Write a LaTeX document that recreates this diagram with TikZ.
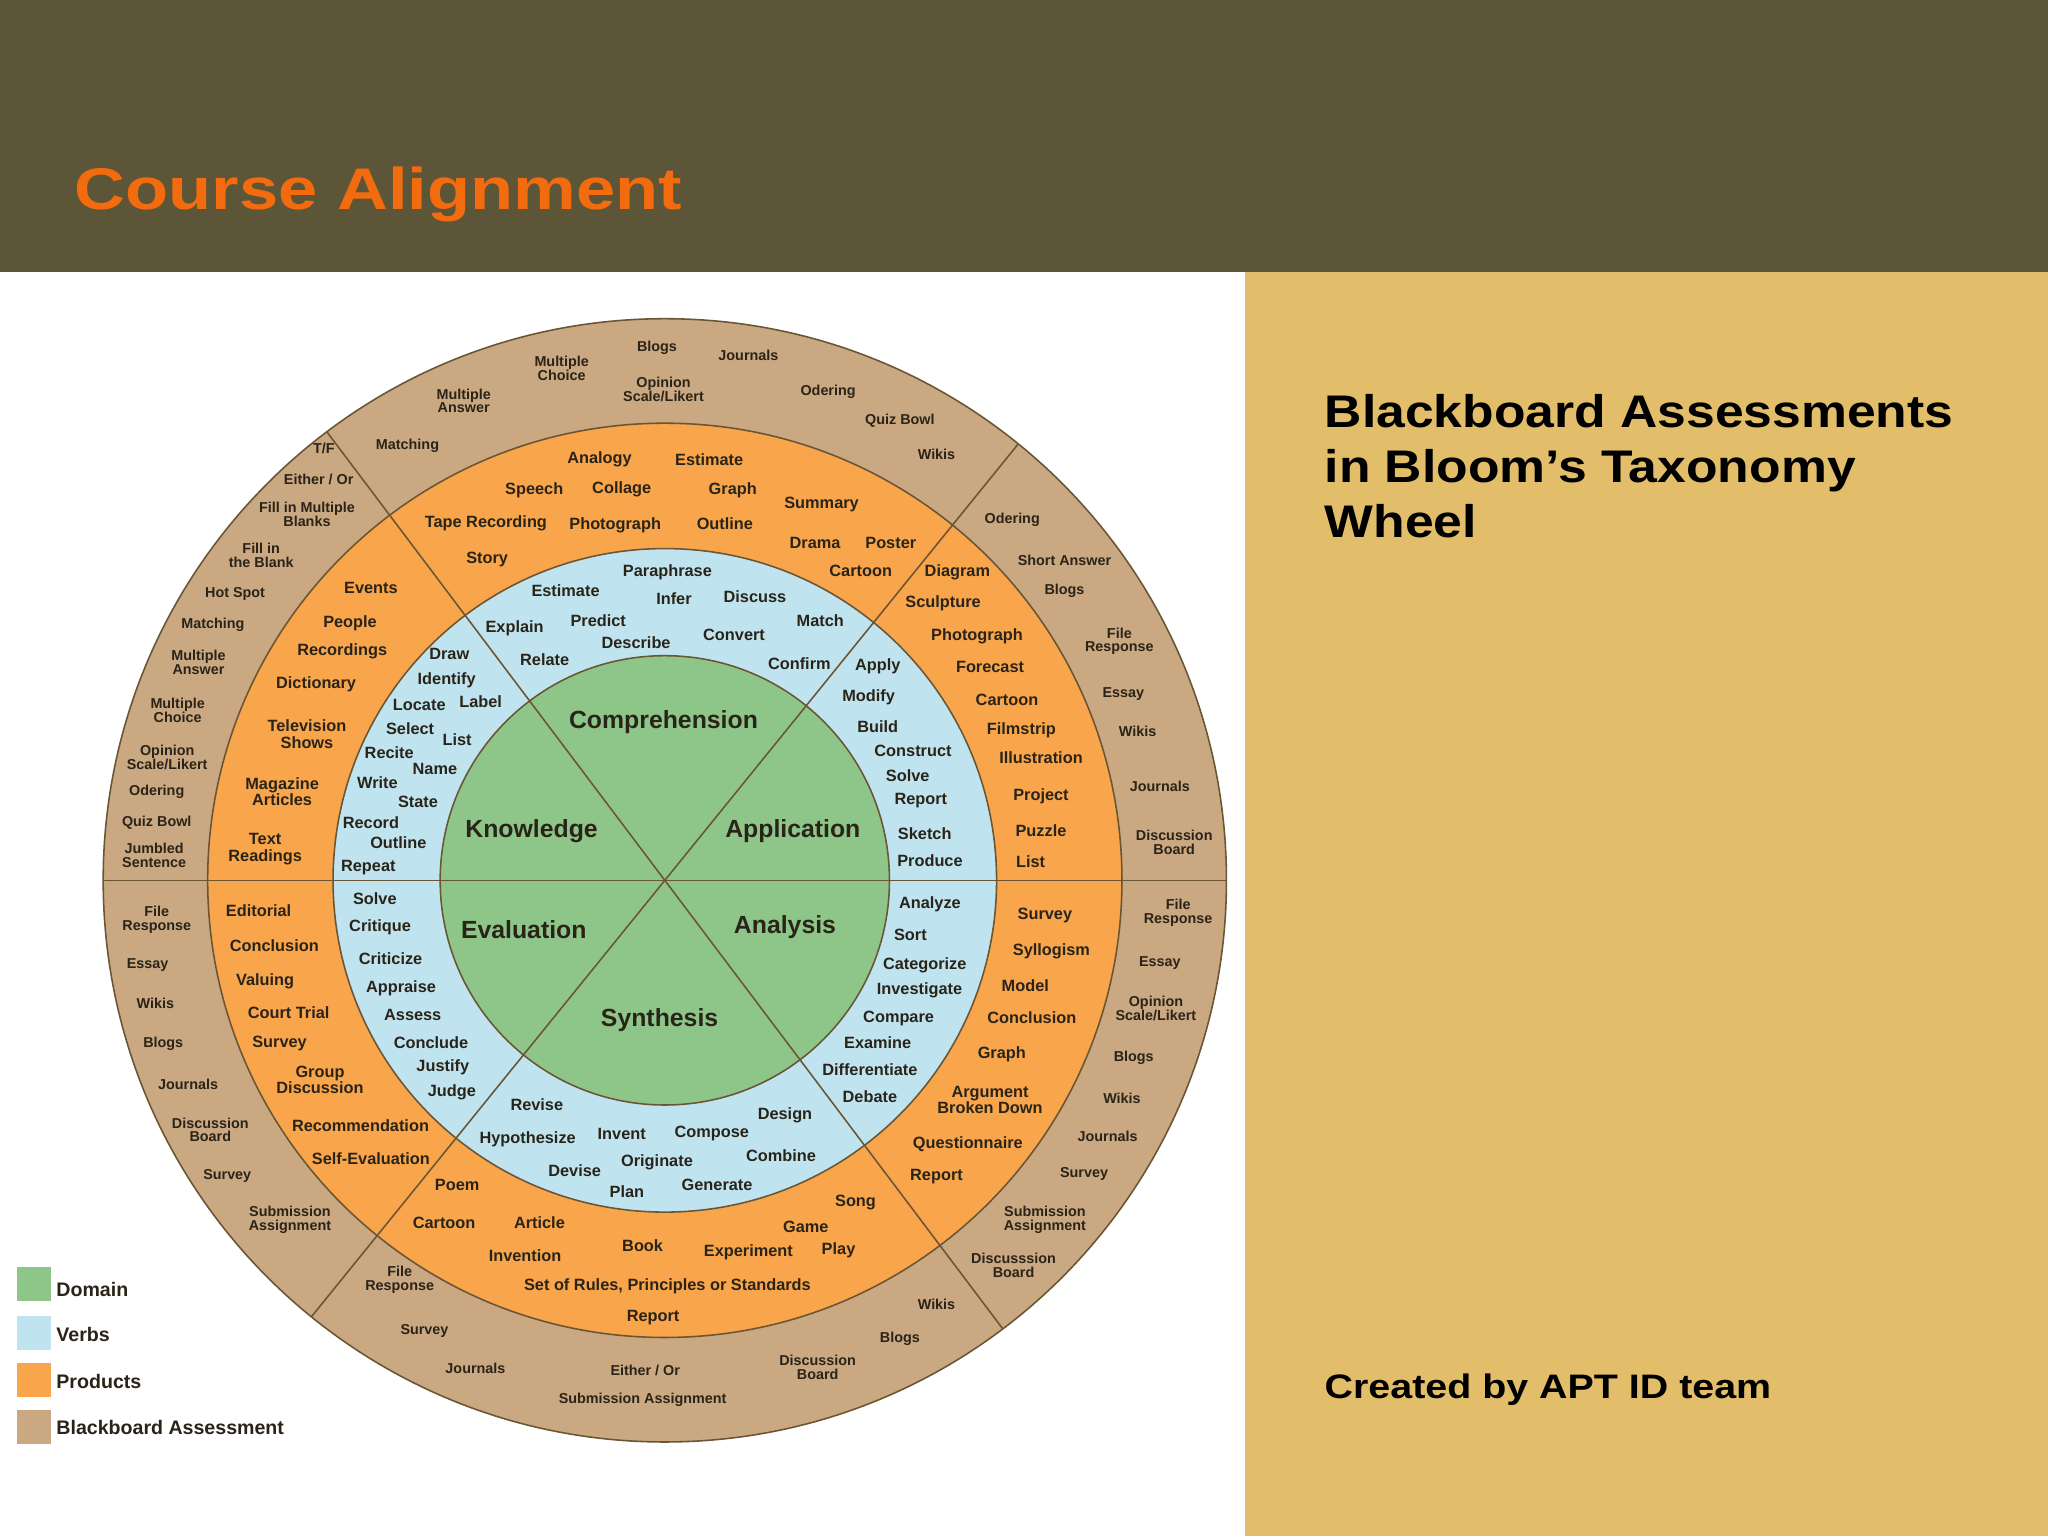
\documentclass[tikz,border=0pt]{standalone}
\usepackage{fontspec}
\setmainfont{Liberation Sans}
\definecolor{hdr}{HTML}{5C5538}
\definecolor{panel}{HTML}{E3BE6A}
\definecolor{ttl}{HTML}{F26B0F}
\definecolor{cBrown}{HTML}{C9A882}
\definecolor{cOrange}{HTML}{F8A54B}
\definecolor{cBlue}{HTML}{BFE4F0}
\definecolor{cGreen}{HTML}{8EC68A}
\definecolor{lineC}{HTML}{6A5535}
\definecolor{txt}{HTML}{2A2418}
\begin{document}
\begin{tikzpicture}[x=1pt,y=-1pt,
  sm/.style={font=\bfseries\fontsize{11}{10.5}\selectfont,align=center,inner sep=0,text=txt},
  md/.style={font=\bfseries\fontsize{12.5}{12.5}\selectfont,align=center,inner sep=0,text=txt},
  dom/.style={font=\bfseries\fontsize{19}{19}\selectfont,inner sep=0,text=txt},
  ring/.style={draw=lineC,line width=1.2pt},
  legbox/.style={minimum size=26pt,inner sep=0,anchor=north west},
  leglab/.style={font=\bfseries\fontsize{15}{15}\selectfont,anchor=west,inner sep=0,text=txt}]
\useasboundingbox (0,0) rectangle (1568,1176);
\fill[white] (0,0) rectangle (1568,1176);
\fill[hdr] (0,0) rectangle (1568,208);
\fill[panel] (953,208) rectangle (1568,1176);
\node[font=\bfseries\fontsize{45}{45}\selectfont,text=ttl,anchor=west,inner sep=0,xscale=1.2] (title) at (57,149) {Course Alignment};
\node[font=\bfseries\fontsize{35}{42}\selectfont,align=left,anchor=north west,inner sep=0,text=black,xscale=1.13] (head) at (1014,302) {Blackboard Assessments\\in Bloom’s Taxonomy\\Wheel};
\node[font=\bfseries\fontsize{26}{26}\selectfont,anchor=west,inner sep=0,text=black,xscale=1.16] (credit) at (1014,1064) {Created by APT ID team};
% wheel
\coordinate (c) at (509,674);
\filldraw[ring,fill=cBrown] (c) circle (430);
\filldraw[ring,fill=cOrange] (c) circle (350);
\filldraw[ring,fill=cBlue] (c) circle (254);
\filldraw[ring,fill=cGreen] (c) circle (172);
\foreach \a in {0,51,127,180,231,307} \draw[lineC,line width=1.2pt] (c) -- +({430*cos(\a)},{-430*sin(\a)});
% domains
\node[dom] (d1) at (508,553) {Comprehension};
\node[dom] (d2) at (407,636) {Knowledge};
\node[dom] (d3) at (607,636) {Application};
\node[dom] (d4) at (401,712) {Evaluation};
\node[dom] (d5) at (601,710) {Analysis};
\node[dom] (d6) at (505,781) {Synthesis};
% outer ring
\foreach \t/\x/\y [count=\i] in {
 {Multiple\\Choice}/430/282, Blogs/503/266, Journals/573/272, {Opinion\\Scale/Likert}/508/298,
 {Multiple\\Answer}/355/307, Odering/634/300, Quiz Bowl/689/322, Matching/312/341, Wikis/717/348,
 {T/F}/248/343, {Either / Or}/244/367, {Fill in Multiple\\Blanks}/235/394, {Fill in\\the Blank}/200/425,
 Hot Spot/180/455, Matching/163/478, {Multiple\\Answer}/152/507, {Multiple\\Choice}/136/544,
 {Opinion\\Scale/Likert}/128/580, Odering/120/606, Quiz Bowl/120/630, {Jumbled\\Sentence}/118/655,
 Odering/775/398, Short Answer/815/429, Blogs/815/452, {File\\Response}/857/491, Essay/860/531,
 Wikis/871/560, Journals/888/602, {Discussion\\Board}/899/645,
 {File\\Response}/120/704, Essay/113/739, Wikis/119/768, Blogs/125/799, Journals/144/830,
 {Discussion\\Board}/161/865, Survey/174/900, {Submission\\Assignment}/222/934,
 {File\\Response}/902/699, Essay/888/737, {Opinion\\Scale/Likert}/885/772, Blogs/868/810,
 Wikis/859/841, Journals/848/870, Survey/830/899, {Submission\\Assignment}/800/934,
 {Discusssion\\Board}/776/969,
 {File\\Response}/306/980, Survey/325/1019, Journals/364/1048, {Either / Or}/494/1049,
 {Discussion\\Board}/626/1047, Blogs/689/1025, Wikis/717/999, Submission Assignment/492/1072}
 \node[sm] (o\i) at (\x,\y) {\t};
% orange ring
\foreach \t/\x/\y [count=\i] in {
 Analogy/459/352, Estimate/543/352, Speech/409/375, Collage/476/375, Graph/561/375, Summary/629/386,
 Tape Recording/372/401, Photograph/471/402, Outline/555/401, Drama/624/416, Poster/682/416,
 Story/373/428, Cartoon/659/437,
 Events/284/450, People/268/477, Recordings/262/499, Dictionary/242/524, {Television\\Shows}/235/562,
 {Magazine\\Articles}/216/606, {Text\\Readings}/203/650,
 Diagram/733/438, Sculpture/722/462, Photograph/748/487, Forecast/758/511, Cartoon/771/536,
 Filmstrip/782/559, Illustration/797/580, Project/797/610, Puzzle/797/636, List/789/660,
 Editorial/198/697, Conclusion/210/724, Valuing/203/751, Court Trial/221/775, Survey/214/799,
 {Group\\Discussion}/245/827, Recommendation/276/862, Self-Evaluation/284/887,
 Survey/800/701, Syllogism/805/728, Model/785/755, Conclusion/790/779, Graph/767/807,
 {Argument\\Broken Down}/758/842, Questionnaire/741/876, Report/717/901,
 Poem/350/907, Cartoon/340/936, Article/413/936, Song/655/921, Game/617/939, Book/492/954,
 Invention/402/961, Experiment/573/959, Play/642/957,
 {Set of Rules, Principles or Standards}/511/985, Report/500/1009}
 \node[md] (p\i) at (\x,\y) {\t};
% blue ring
\foreach \t/\x/\y [count=\i] in {
 Paraphrase/511/438, Estimate/433/452, Infer/516/458, Discuss/578/457, Explain/394/481,
 Predict/458/475, Match/628/475, Describe/487/492, Convert/562/486, Relate/417/505, Confirm/612/508,
 Draw/344/501, Identify/342/521, Label/368/537, Locate/321/540, Select/314/558, List/350/566,
 Recite/298/576, Name/333/589, Write/289/599, State/320/614, Record/284/630, Outline/305/645,
 Repeat/282/664,
 Apply/672/510, Modify/665/534, Build/672/556, Construct/699/575, Solve/695/594, Report/705/613,
 Sketch/708/638, Produce/712/659,
 Solve/287/688, Critique/291/710, Criticize/299/734, Appraise/307/757, Assess/316/777,
 Conclude/330/798, Justify/339/817, Judge/346/836,
 Analyze/712/692, Sort/697/716, Categorize/708/739, Investigate/704/758, Compare/688/780,
 Examine/672/798, Differentiate/666/819, Debate/666/840,
 Revise/411/846, Design/601/854, Hypothesize/404/872, Invent/476/868, Compose/545/868,
 Originate/503/890, Combine/598/885, Devise/440/896, Plan/480/912, Generate/549/907}
 \node[md] (v\i) at (\x,\y) {\t};
% legend
\node[legbox,fill=cGreen] (l1) at (13,970) {};
\node[legbox,fill=cBlue] (l2) at (13,1007) {};
\node[legbox,fill=cOrange] (l3) at (13,1043) {};
\node[legbox,fill=cBrown] (l4) at (13,1079) {};
\node[leglab] (t1) at (43,987) {Domain};
\node[leglab] (t2) at (43,1022) {Verbs};
\node[leglab] (t3) at (43,1058) {Products};
\node[leglab] (t4) at (43,1093) {Blackboard Assessment};
\end{tikzpicture}
\end{document}
